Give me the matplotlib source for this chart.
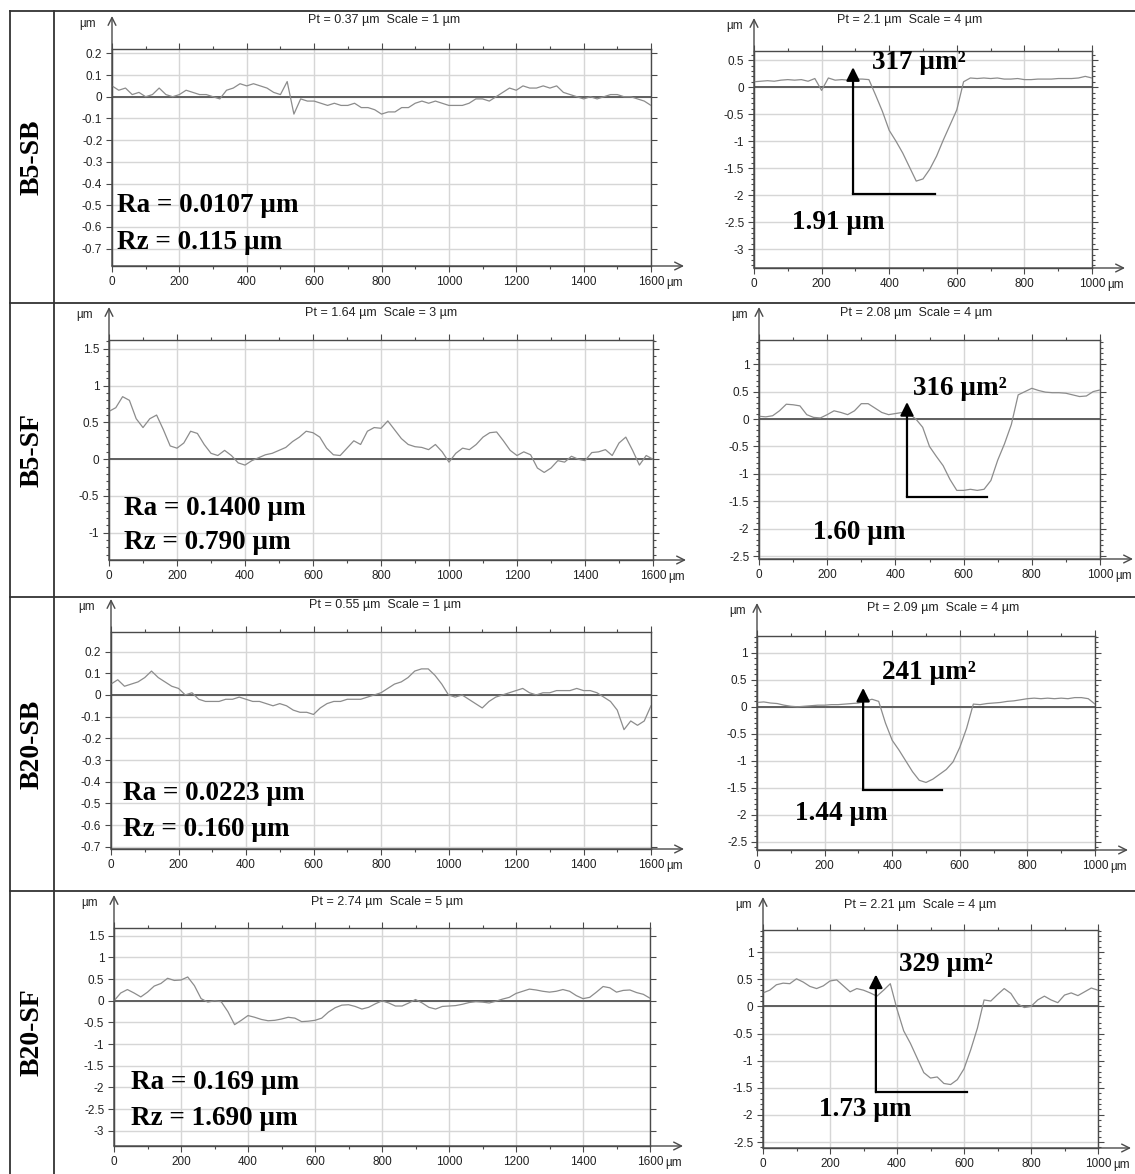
import matplotlib
matplotlib.use('Agg')
import matplotlib.pyplot as plt
import numpy as np
from matplotlib.lines import Line2D
from matplotlib.ticker import MultipleLocator

W, H = 1135, 1174
plt.rcParams['font.family'] = ['Liberation Sans', 'DejaVu Sans']
plt.rcParams['axes.unicode_minus'] = False

# ---- data ----
rows = ['B5-SB', 'B5-SF', 'B20-SB', 'B20-SF']
ra = ['0.0107', '0.1400', '0.0223', '0.169']
rz = ['0.115', '0.790', '0.160', '1.690']
pt_left = ['0.37', '1.64', '0.55', '2.74']
scale_left = ['1', '3', '1', '5']
pt_right = ['2.1', '2.08', '2.09', '2.21']
scale_right = ['4', '4', '4', '4']
area = ['317', '316', '241', '329']
depth = ['1.91', '1.60', '1.44', '1.73']

# sampling positions (um)
x_left = np.arange(0, 1601, 20)
x_right = np.arange(0, 1001, 20)

# roughness profiles, 0..1600 um
rough_b5_sb = [0.05, 0.03, 0.04, 0.01, 0.02, 0.00, 0.01, 0.04, 0.01, 0.00,
               0.01, 0.03, 0.02, 0.01, 0.01, 0.00, -0.01, 0.03, 0.04, 0.06,
               0.05, 0.06, 0.05, 0.04, 0.02, 0.01, 0.07, -0.08, -0.01, -0.02,
               -0.02, -0.03, -0.04, -0.03, -0.04, -0.04, -0.03, -0.05, -0.05, -0.06,
               -0.08, -0.07, -0.07, -0.05, -0.05, -0.03, -0.02, -0.03, -0.02, -0.03,
               -0.04, -0.04, -0.04, -0.03, -0.01, -0.01, -0.02, 0.00, 0.02, 0.04,
               0.03, 0.05, 0.04, 0.04, 0.05, 0.04, 0.05, 0.02, 0.01, 0.00,
               -0.01, 0.00, -0.01, 0.00, 0.01, 0.01, 0.00, 0.00, -0.01, -0.02,
               -0.04]
rough_b5_sf = [0.65, 0.70, 0.85, 0.80, 0.55, 0.43, 0.55, 0.60, 0.40, 0.18,
               0.15, 0.22, 0.38, 0.35, 0.20, 0.08, 0.05, 0.12, 0.05, -0.05,
               -0.08, -0.02, 0.02, 0.06, 0.08, 0.12, 0.16, 0.24, 0.30, 0.38,
               0.36, 0.30, 0.15, 0.06, 0.05, 0.15, 0.25, 0.20, 0.38, 0.43,
               0.42, 0.52, 0.40, 0.28, 0.20, 0.17, 0.16, 0.13, 0.20, 0.10,
               -0.04, 0.08, 0.15, 0.13, 0.20, 0.30, 0.36, 0.37, 0.25, 0.12,
               0.05, 0.10, 0.06, -0.12, -0.18, -0.12, -0.02, -0.04, 0.04, 0.00,
               -0.02, 0.09, 0.10, 0.13, 0.05, 0.22, 0.30, 0.12, -0.08, 0.05,
               0.00]
rough_b20_sb = [0.05, 0.07, 0.04, 0.05, 0.06, 0.08, 0.11, 0.08, 0.06, 0.04,
                0.03, 0.00, 0.01, -0.02, -0.03, -0.03, -0.03, -0.02, -0.02, -0.01,
                -0.02, -0.03, -0.03, -0.04, -0.05, -0.04, -0.05, -0.07, -0.08, -0.08,
                -0.09, -0.06, -0.04, -0.03, -0.03, -0.02, -0.02, -0.02, -0.01, 0.00,
                0.01, 0.03, 0.05, 0.06, 0.08, 0.11, 0.12, 0.12, 0.09, 0.05,
                0.00, -0.01, 0.00, -0.02, -0.04, -0.06, -0.03, -0.01, 0.00, 0.01,
                0.02, 0.03, 0.01, 0.00, 0.01, 0.01, 0.02, 0.02, 0.02, 0.03,
                0.02, 0.02, 0.01, -0.01, -0.03, -0.07, -0.16, -0.12, -0.14, -0.12,
                -0.05]
rough_b20_sf = [0.00, 0.18, 0.26, 0.18, 0.09, 0.20, 0.34, 0.40, 0.52, 0.47,
                0.48, 0.55, 0.35, 0.05, -0.03, 0.00, -0.02, -0.25, -0.55, -0.45,
                -0.34, -0.38, -0.43, -0.46, -0.45, -0.42, -0.38, -0.40, -0.48, -0.47,
                -0.45, -0.40, -0.26, -0.16, -0.10, -0.09, -0.13, -0.19, -0.15, -0.07,
                0.00, -0.05, -0.12, -0.12, -0.05, 0.03, -0.05, -0.15, -0.19, -0.13,
                -0.12, -0.11, -0.08, -0.04, -0.02, -0.03, -0.05, -0.01, 0.04, 0.08,
                0.17, 0.22, 0.27, 0.25, 0.22, 0.20, 0.22, 0.26, 0.22, 0.12,
                0.05, 0.08, 0.20, 0.33, 0.30, 0.20, 0.24, 0.25, 0.19, 0.15,
                0.06]

# wear track profiles, 0..1000 um
track_b5_sb = [0.10, 0.11, 0.12, 0.11, 0.13, 0.14, 0.13, 0.14, 0.11, 0.16,
               -0.06, 0.17, 0.13, 0.14, 0.13, 0.15, 0.15, 0.14, -0.15, -0.45,
               -0.80, -1.00, -1.22, -1.48, -1.74, -1.70, -1.52, -1.28, -0.98, -0.70,
               -0.42, 0.10, 0.17, 0.16, 0.17, 0.16, 0.17, 0.15, 0.15, 0.16,
               0.14, 0.14, 0.15, 0.15, 0.15, 0.16, 0.16, 0.16, 0.17, 0.20,
               0.17]
track_b5_sf = [0.05, 0.04, 0.06, 0.15, 0.27, 0.26, 0.24, 0.08, 0.03, 0.02,
               0.08, 0.15, 0.12, 0.08, 0.15, 0.28, 0.28, 0.20, 0.12, 0.08,
               0.10, 0.12, 0.10, 0.00, -0.15, -0.50, -0.68, -0.85, -1.10, -1.30,
               -1.30, -1.28, -1.30, -1.28, -1.12, -0.75, -0.45, -0.10, 0.44, 0.50,
               0.56, 0.52, 0.49, 0.48, 0.48, 0.47, 0.44, 0.41, 0.42, 0.50,
               0.53]
track_b20_sb = [0.08, 0.09, 0.07, 0.06, 0.03, 0.01, 0.00, 0.01, 0.02, 0.03,
                0.03, 0.04, 0.04, 0.05, 0.06, 0.07, 0.10, 0.14, 0.10, -0.30,
                -0.62, -0.80, -1.00, -1.20, -1.36, -1.40, -1.34, -1.25, -1.16, -1.02,
                -0.75, -0.40, 0.05, 0.04, 0.06, 0.07, 0.08, 0.10, 0.11, 0.13,
                0.15, 0.16, 0.15, 0.16, 0.15, 0.16, 0.15, 0.17, 0.17, 0.15,
                0.05]
track_b20_sf = [0.25, 0.30, 0.40, 0.43, 0.42, 0.51, 0.45, 0.37, 0.33, 0.38,
                0.47, 0.49, 0.38, 0.27, 0.33, 0.30, 0.25, 0.19, 0.30, 0.42,
                -0.05, -0.45, -0.68, -0.95, -1.22, -1.32, -1.30, -1.42, -1.44, -1.35,
                -1.15, -0.80, -0.40, 0.12, 0.10, 0.22, 0.33, 0.24, 0.05, -0.02,
                0.00, 0.12, 0.19, 0.12, 0.07, 0.21, 0.25, 0.20, 0.27, 0.34,
                0.30]

rough = [rough_b5_sb, rough_b5_sf, rough_b20_sb, rough_b20_sf]
track = [track_b5_sb, track_b5_sf, track_b20_sb, track_b20_sf]

# depth marker: vertical arrow at arrow_x from arrow_bottom to arrow_top, base line to arrow_end
arrow_x = [293, 434, 314, 337]
arrow_top = [0.37, 0.31, 0.35, 0.59]
arrow_bottom = [-1.98, -1.42, -1.54, -1.58]
arrow_end = [535, 669, 547, 609]

left_ticks = [[-0.7, -0.6, -0.5, -0.4, -0.3, -0.2, -0.1, 0, 0.1, 0.2],
              [-1, -0.5, 0, 0.5, 1, 1.5],
              [-0.7, -0.6, -0.5, -0.4, -0.3, -0.2, -0.1, 0, 0.1, 0.2],
              [-3, -2.5, -2, -1.5, -1, -0.5, 0, 0.5, 1, 1.5]]
right_ticks = [[-3, -2.5, -2, -1.5, -1, -0.5, 0, 0.5],
               [-2.5, -2, -1.5, -1, -0.5, 0, 0.5, 1],
               [-2.5, -2, -1.5, -1, -0.5, 0, 0.5, 1],
               [-2.5, -2, -1.5, -1, -0.5, 0, 0.5, 1]]

# ---- layout (pixel boxes: x0, y0, x1, y1) ----
left_box = [(112, 49, 651, 266), (109, 340, 653, 560), (111, 632, 651, 849), (114, 928, 650, 1146)]
right_box = [(754, 51, 1092, 268), (759, 340, 1100, 559), (757, 636, 1095, 850), (763, 930, 1098, 1148)]
left_ylim = [(-0.78, 0.22), (-1.37, 1.62), (-0.71, 0.29), (-3.35, 1.68)]
right_ylim = [(-3.35, 0.67), (-2.55, 1.44), (-2.65, 1.31), (-2.61, 1.41)]
left_minor = [False, True, False, False]
left_title = [(0.505, 29), (0.5, 27), (0.507, 27), (0.51, 26)]
right_title = [(0.46, 31), (0.46, 27), (0.55, 28), (0.47, 25)]
ra_pos = [(15, -0.50, -0.67), (44, -0.67, -1.13), (35, -0.456, -0.62), (52, -1.89, -2.72)]
area_pos = [(349, 0.46), (452, 0.56), (370, 0.63), (406, 0.77)]
depth_pos = [(112, -2.50), (158, -2.06), (112, -1.98), (167, -1.90)]
row_sep = [303, 597, 891]

serif = ['Liberation Serif', 'DejaVu Serif']
axc = '#4a4a4a'

fig = plt.figure(figsize=(W / 100, H / 100), dpi=100)


def panel(box, x, y, xmax, ylim, yticks, yminor, title, tpos, ylab_dx):
    x0, y0, x1, y1 = box
    w, h = x1 - x0, y1 - y0
    ax = fig.add_axes([x0 / W, 1 - y1 / H, w / W, h / H])
    ax.plot(x, y, color='#8c8c8c', lw=0.9, zorder=3)
    ax.axhline(0, color='#5e5e5e', lw=1.4, zorder=2)
    ax.set_xlim(0, xmax)
    ax.set_ylim(*ylim)
    xt = list(range(0, xmax + 1, 200))
    ax.set_xticks(xt)
    ax.set_xticklabels([str(v) for v in xt])
    ax.xaxis.set_minor_locator(MultipleLocator(100))
    ax.set_yticks(yticks)
    ax.set_yticklabels(['%g' % v for v in yticks])
    if yminor:
        ax.yaxis.set_minor_locator(MultipleLocator(0.1))
    ax.grid(True, which='major', color='#d6d6d6', lw=1.0, zorder=1)
    ax.tick_params(which='both', direction='out', top=True, right=True,
                   labelsize=8.5, labelcolor='#222222', color=axc, width=0.8)
    ax.tick_params(which='major', length=4, pad=3)
    ax.tick_params(which='minor', length=2.5)
    for s in ax.spines.values():
        s.set_color(axc)
        s.set_linewidth(1.0)
    # axis arrows
    ax.annotate('', xy=(0, 1 + 33 / h), xytext=(0, 0), xycoords='axes fraction',
                arrowprops=dict(arrowstyle='->', color=axc, lw=1.0, shrinkA=0, shrinkB=0,
                                mutation_scale=14), annotation_clip=False)
    ax.annotate('', xy=(1 + 33 / w, 0), xytext=(0, 0), xycoords='axes fraction',
                arrowprops=dict(arrowstyle='->', color=axc, lw=1.0, shrinkA=0, shrinkB=0,
                                mutation_scale=14), annotation_clip=False)
    ax.annotate('µm', xy=(0, 1), xycoords='axes fraction', xytext=(ylab_dx, 25),
                textcoords='offset pixels', ha='right', va='center', fontsize=8.5, color='#222222')
    ax.annotate('µm', xy=(1, 0), xycoords='axes fraction', xytext=(15, -17),
                textcoords='offset pixels', ha='left', va='center', fontsize=8.5, color='#222222')
    ax.annotate(title, xy=(tpos[0], 1), xycoords='axes fraction', xytext=(0, tpos[1]),
                textcoords='offset pixels', ha='center', va='center', fontsize=9, color='#222222')
    return ax


for i in range(4):
    axl = panel(left_box[i], x_left, rough[i], 1600, left_ylim[i], left_ticks[i], left_minor[i],
                'Pt = %s µm  Scale = %s µm' % (pt_left[i], scale_left[i]), left_title[i], -16)
    rx, ry_a, ry_z = ra_pos[i]
    axl.text(rx, ry_a, 'Ra = %s µm' % ra[i], family=serif, weight='bold', fontsize=19.5,
             ha='left', va='center', zorder=5)
    axl.text(rx, ry_z, 'Rz = %s µm' % rz[i], family=serif, weight='bold', fontsize=19.5,
             ha='left', va='center', zorder=5)

    axr = panel(right_box[i], x_right, track[i], 1000, right_ylim[i], right_ticks[i], True,
                'Pt = %s µm  Scale = %s µm' % (pt_right[i], scale_right[i]), right_title[i], -11)
    axr.annotate('', xy=(arrow_x[i], arrow_top[i]), xytext=(arrow_x[i], arrow_bottom[i]),
                 arrowprops=dict(arrowstyle='-|>', color='black', lw=1.6, shrinkA=0, shrinkB=0,
                                 mutation_scale=20), zorder=6)
    axr.plot([arrow_x[i], arrow_end[i]], [arrow_bottom[i], arrow_bottom[i]], color='black', lw=1.6, zorder=6)
    axr.text(area_pos[i][0], area_pos[i][1], '%s µm²' % area[i], family=serif, weight='bold',
             fontsize=19.5, ha='left', va='center', zorder=5)
    axr.text(depth_pos[i][0], depth_pos[i][1], '%s µm' % depth[i], family=serif, weight='bold',
             fontsize=19.5, ha='left', va='center', zorder=5)

# table frame and row labels
tc = '#333333'
fig.add_artist(Line2D([10 / W, 1], [1 - 11 / H, 1 - 11 / H], color=tc, lw=1.3))
fig.add_artist(Line2D([10 / W, 10 / W], [0, 1 - 11 / H], color=tc, lw=1.3))
fig.add_artist(Line2D([54 / W, 54 / W], [0, 1 - 11 / H], color=tc, lw=1.3))
for yy in row_sep:
    fig.add_artist(Line2D([10 / W, 1], [1 - yy / H, 1 - yy / H], color=tc, lw=1.3))

edges = [11] + row_sep + [H]
for i, name in enumerate(rows):
    yc = (edges[i] + edges[i + 1]) / 2
    fig.text(32 / W, 1 - yc / H, name, rotation=90, family=serif, weight='bold',
             fontsize=20, ha='center', va='center')

fig.savefig('out.png', dpi=100)
